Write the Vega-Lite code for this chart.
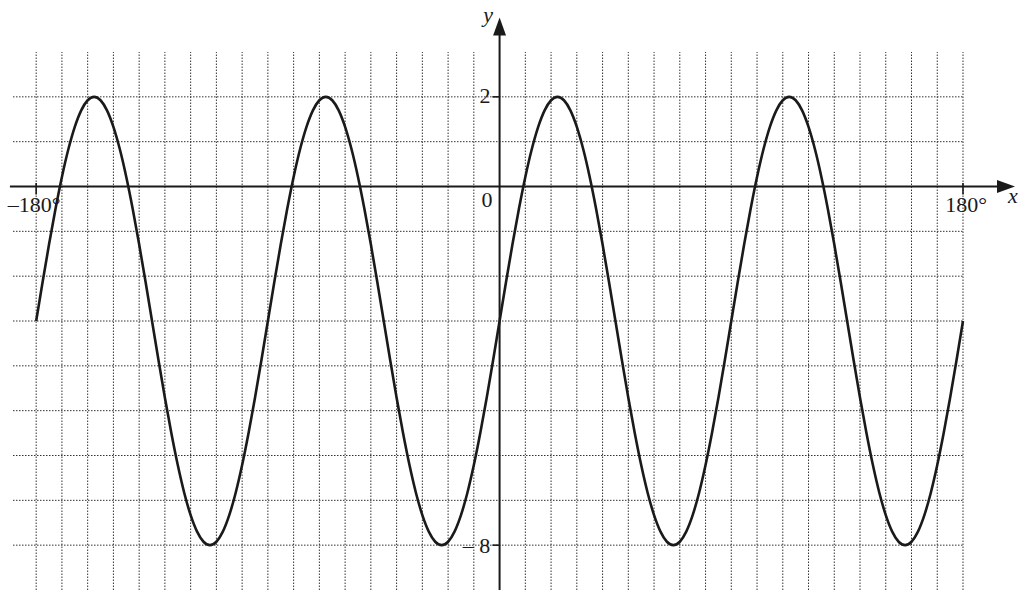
{
  "$schema": "https://vega.github.io/schema/vega-lite/v6.json",
  "width": 950,
  "height": 538,
  "autosize": "none",
  "padding": {"left": 13, "top": 52, "right": 62, "bottom": 8},
  "background": "white",
  "config": {
    "view": {"stroke": null},
    "text": {"font": "Liberation Serif", "fontSize": 22, "color": "#1a1a1a"}
  },
  "datasets": {
    "curve": [
      {"x": -180, "y": -3}, {"x": -177.5, "y": -2.132}, {"x": -175, "y": -1.29}, {"x": -172.5, "y": -0.5},
      {"x": -170, "y": 0.214}, {"x": -167.5, "y": 0.83}, {"x": -165, "y": 1.33}, {"x": -162.5, "y": 1.698},
      {"x": -160, "y": 1.924}, {"x": -157.5, "y": 2}, {"x": -155, "y": 1.924}, {"x": -152.5, "y": 1.698},
      {"x": -150, "y": 1.33}, {"x": -147.5, "y": 0.83}, {"x": -145, "y": 0.214}, {"x": -142.5, "y": -0.5},
      {"x": -140, "y": -1.29}, {"x": -137.5, "y": -2.132}, {"x": -135, "y": -3}, {"x": -132.5, "y": -3.868},
      {"x": -130, "y": -4.71}, {"x": -127.5, "y": -5.5}, {"x": -125, "y": -6.214}, {"x": -122.5, "y": -6.83},
      {"x": -120, "y": -7.33}, {"x": -117.5, "y": -7.698}, {"x": -115, "y": -7.924}, {"x": -112.5, "y": -8},
      {"x": -110, "y": -7.924}, {"x": -107.5, "y": -7.698}, {"x": -105, "y": -7.33}, {"x": -102.5, "y": -6.83},
      {"x": -100, "y": -6.214}, {"x": -97.5, "y": -5.5}, {"x": -95, "y": -4.71}, {"x": -92.5, "y": -3.868},
      {"x": -90, "y": -3}, {"x": -87.5, "y": -2.132}, {"x": -85, "y": -1.29}, {"x": -82.5, "y": -0.5},
      {"x": -80, "y": 0.214}, {"x": -77.5, "y": 0.83}, {"x": -75, "y": 1.33}, {"x": -72.5, "y": 1.698},
      {"x": -70, "y": 1.924}, {"x": -67.5, "y": 2}, {"x": -65, "y": 1.924}, {"x": -62.5, "y": 1.698},
      {"x": -60, "y": 1.33}, {"x": -57.5, "y": 0.83}, {"x": -55, "y": 0.214}, {"x": -52.5, "y": -0.5},
      {"x": -50, "y": -1.29}, {"x": -47.5, "y": -2.132}, {"x": -45, "y": -3}, {"x": -42.5, "y": -3.868},
      {"x": -40, "y": -4.71}, {"x": -37.5, "y": -5.5}, {"x": -35, "y": -6.214}, {"x": -32.5, "y": -6.83},
      {"x": -30, "y": -7.33}, {"x": -27.5, "y": -7.698}, {"x": -25, "y": -7.924}, {"x": -22.5, "y": -8},
      {"x": -20, "y": -7.924}, {"x": -17.5, "y": -7.698}, {"x": -15, "y": -7.33}, {"x": -12.5, "y": -6.83},
      {"x": -10, "y": -6.214}, {"x": -7.5, "y": -5.5}, {"x": -5, "y": -4.71}, {"x": -2.5, "y": -3.868},
      {"x": 0, "y": -3}, {"x": 2.5, "y": -2.132}, {"x": 5, "y": -1.29}, {"x": 7.5, "y": -0.5},
      {"x": 10, "y": 0.214}, {"x": 12.5, "y": 0.83}, {"x": 15, "y": 1.33}, {"x": 17.5, "y": 1.698},
      {"x": 20, "y": 1.924}, {"x": 22.5, "y": 2}, {"x": 25, "y": 1.924}, {"x": 27.5, "y": 1.698},
      {"x": 30, "y": 1.33}, {"x": 32.5, "y": 0.83}, {"x": 35, "y": 0.214}, {"x": 37.5, "y": -0.5},
      {"x": 40, "y": -1.29}, {"x": 42.5, "y": -2.132}, {"x": 45, "y": -3}, {"x": 47.5, "y": -3.868},
      {"x": 50, "y": -4.71}, {"x": 52.5, "y": -5.5}, {"x": 55, "y": -6.214}, {"x": 57.5, "y": -6.83},
      {"x": 60, "y": -7.33}, {"x": 62.5, "y": -7.698}, {"x": 65, "y": -7.924}, {"x": 67.5, "y": -8},
      {"x": 70, "y": -7.924}, {"x": 72.5, "y": -7.698}, {"x": 75, "y": -7.33}, {"x": 77.5, "y": -6.83},
      {"x": 80, "y": -6.214}, {"x": 82.5, "y": -5.5}, {"x": 85, "y": -4.71}, {"x": 87.5, "y": -3.868},
      {"x": 90, "y": -3}, {"x": 92.5, "y": -2.132}, {"x": 95, "y": -1.29}, {"x": 97.5, "y": -0.5},
      {"x": 100, "y": 0.214}, {"x": 102.5, "y": 0.83}, {"x": 105, "y": 1.33}, {"x": 107.5, "y": 1.698},
      {"x": 110, "y": 1.924}, {"x": 112.5, "y": 2}, {"x": 115, "y": 1.924}, {"x": 117.5, "y": 1.698},
      {"x": 120, "y": 1.33}, {"x": 122.5, "y": 0.83}, {"x": 125, "y": 0.214}, {"x": 127.5, "y": -0.5},
      {"x": 130, "y": -1.29}, {"x": 132.5, "y": -2.132}, {"x": 135, "y": -3}, {"x": 137.5, "y": -3.868},
      {"x": 140, "y": -4.71}, {"x": 142.5, "y": -5.5}, {"x": 145, "y": -6.214}, {"x": 147.5, "y": -6.83},
      {"x": 150, "y": -7.33}, {"x": 152.5, "y": -7.698}, {"x": 155, "y": -7.924}, {"x": 157.5, "y": -8},
      {"x": 160, "y": -7.924}, {"x": 162.5, "y": -7.698}, {"x": 165, "y": -7.33}, {"x": 167.5, "y": -6.83},
      {"x": 170, "y": -6.214}, {"x": 172.5, "y": -5.5}, {"x": 175, "y": -4.71}, {"x": 177.5, "y": -3.868},
      {"x": 180, "y": -3}
    ],
    "gridX": [
      {"x": -180}, {"x": -170}, {"x": -160}, {"x": -150}, {"x": -140}, {"x": -130}, {"x": -120}, {"x": -110},
      {"x": -100}, {"x": -90}, {"x": -80}, {"x": -70}, {"x": -60}, {"x": -50}, {"x": -40}, {"x": -30},
      {"x": -20}, {"x": -10}, {"x": 10}, {"x": 20}, {"x": 30}, {"x": 40}, {"x": 50}, {"x": 60},
      {"x": 70}, {"x": 80}, {"x": 90}, {"x": 100}, {"x": 110}, {"x": 120}, {"x": 130}, {"x": 140},
      {"x": 150}, {"x": 160}, {"x": 170}, {"x": 180}
    ],
    "gridY": [
      {"y": -8}, {"y": -7}, {"y": -6}, {"y": -5}, {"y": -4}, {"y": -3}, {"y": -2}, {"y": -1},
      {"y": 1}, {"y": 2}
    ],
    "axisLines": [
      {"x1": -190.2, "y1": 0, "x2": 195, "y2": 0},
      {"x1": 0, "y1": -9, "x2": 0, "y2": 3.45}
    ],
    "tickMarks": [
      {"x1": -180, "y1": 0.08, "x2": -180, "y2": -0.18},
      {"x1": 180, "y1": 0.08, "x2": 180, "y2": -0.18},
      {"x1": -2.8, "y1": 2, "x2": 0, "y2": 2},
      {"x1": -2.8, "y1": -8, "x2": 0, "y2": -8}
    ],
    "arrows": [
      {"x": 196.7, "y": 0, "shape": "M-1,-0.72L1,0L-1,0.72Z"},
      {"x": 0, "y": 3.57, "shape": "M-0.72,1L0,-1L0.72,1Z"}
    ],
    "labels": [
      {"x": -180.8, "y": -0.575, "text": "–180°"},
      {"x": 181.2, "y": -0.575, "text": "180°"},
      {"x": -4.9, "y": -0.46, "text": "0"},
      {"x": -5.7, "y": 1.86, "text": "2"},
      {"x": -9, "y": -8.17, "text": "– 8"}
    ],
    "axisNames": [
      {"x": -4.5, "y": 3.67, "text": "y"},
      {"x": 199.4, "y": -0.37, "text": "x"}
    ]
  },
  "layer": [
    {
      "data": {"name": "gridX"},
      "mark": {"type": "rule", "color": "#333333", "strokeWidth": 1, "strokeDash": [1.5, 1.5]},
      "encoding": {
        "x": {
          "field": "x",
          "type": "quantitative",
          "scale": {"domain": [-189, 180], "nice": false, "zero": false},
          "axis": null
        },
        "y": {"datum": -9, "type": "quantitative", "scale": {"domain": [-9, 3], "nice": false, "zero": false}, "axis": null},
        "y2": {"datum": 3}
      }
    },
    {
      "data": {"name": "gridY"},
      "mark": {"type": "rule", "color": "#333333", "strokeWidth": 1, "strokeDash": [1.5, 1.5]},
      "encoding": {
        "y": {"field": "y", "type": "quantitative"},
        "x": {"datum": -189, "type": "quantitative"},
        "x2": {"datum": 180}
      }
    },
    {
      "data": {"name": "axisLines"},
      "mark": {"type": "rule", "color": "#1a1a1a", "strokeWidth": 2},
      "encoding": {
        "x": {"field": "x1", "type": "quantitative"},
        "y": {"field": "y1", "type": "quantitative"},
        "x2": {"field": "x2"},
        "y2": {"field": "y2"}
      }
    },
    {
      "data": {"name": "curve"},
      "mark": {"type": "line", "color": "#1a1a1a", "strokeWidth": 2.6, "interpolate": "monotone"},
      "encoding": {
        "x": {"field": "x", "type": "quantitative"},
        "y": {"field": "y", "type": "quantitative"}
      }
    },
    {
      "data": {"name": "tickMarks"},
      "mark": {"type": "rule", "color": "#1a1a1a", "strokeWidth": 1.6},
      "encoding": {
        "x": {"field": "x1", "type": "quantitative"},
        "y": {"field": "y1", "type": "quantitative"},
        "x2": {"field": "x2"},
        "y2": {"field": "y2"}
      }
    },
    {
      "data": {"name": "arrows"},
      "mark": {"type": "point", "filled": true, "color": "#1a1a1a", "opacity": 1, "size": 324},
      "encoding": {
        "x": {"field": "x", "type": "quantitative"},
        "y": {"field": "y", "type": "quantitative"},
        "shape": {"field": "shape", "type": "nominal", "scale": null}
      }
    },
    {
      "data": {"name": "labels"},
      "mark": {"type": "text", "align": "center", "baseline": "alphabetic"},
      "encoding": {
        "x": {"field": "x", "type": "quantitative"},
        "y": {"field": "y", "type": "quantitative"},
        "text": {"field": "text"}
      }
    },
    {
      "data": {"name": "axisNames"},
      "mark": {"type": "text", "align": "center", "baseline": "alphabetic", "fontStyle": "italic"},
      "encoding": {
        "x": {"field": "x", "type": "quantitative"},
        "y": {"field": "y", "type": "quantitative"},
        "text": {"field": "text"}
      }
    }
  ]
}
